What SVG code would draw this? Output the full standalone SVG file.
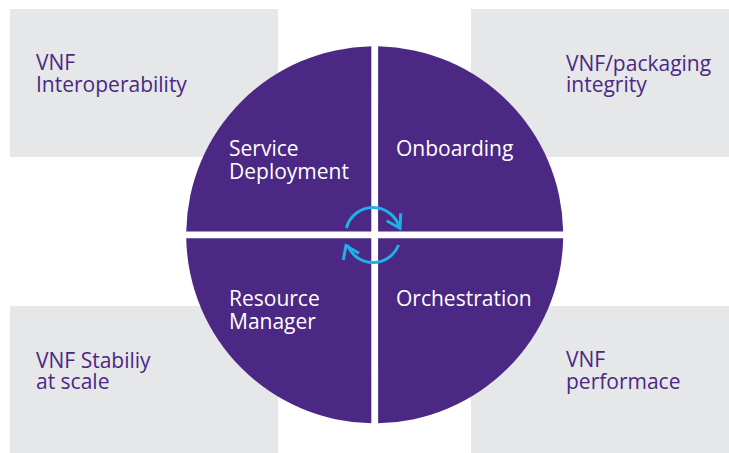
<svg xmlns="http://www.w3.org/2000/svg" width="729" height="453" viewBox="0 0 729 453">
<style>
.box{fill:#e6e7e8}
.quad{fill:#4b2884}
.bt{font-family:"Open Sans","Noto Sans",sans-serif;font-size:21px;fill:#4b2884}
.qt{font-family:"Open Sans","Noto Sans",sans-serif;font-size:21px;fill:#ffffff}
.cyc{fill:none;stroke:#1eb1e7;stroke-width:3;stroke-linecap:butt;stroke-linejoin:miter}
</style>
<rect width="729" height="453" fill="#ffffff"/>
<g id="box-interop">
<rect class="box" x="10" y="9" width="268" height="148"/>
<text class="bt"><tspan x="36" y="70">VNF</tspan><tspan x="36" y="92">Interoperability</tspan></text>
</g>
<g id="box-packaging">
<rect class="box" x="471" y="9" width="258" height="148"/>
<text class="bt"><tspan x="566" y="71">VNF/packaging</tspan><tspan x="566" y="92">integrity</tspan></text>
</g>
<g id="box-stability">
<rect class="box" x="10" y="306" width="268" height="147"/>
<text class="bt"><tspan x="36" y="368">VNF Stabiliy</tspan><tspan x="36" y="389">at scale</tspan></text>
</g>
<g id="box-performance">
<rect class="box" x="471" y="306" width="258" height="147"/>
<text class="bt"><tspan x="566" y="367">VNF</tspan><tspan x="566" y="389">performace</tspan></text>
</g>
<g id="q-service">
<path class="quad" d="M371.3,231.4 L371.3,46.33 A188.5,188.5 0 0 0 186.23,231.4 Z"/>
<text class="qt"><tspan x="229" y="156">Service</tspan><tspan x="229" y="179">Deployment</tspan></text>
</g>
<g id="q-onboarding">
<path class="quad" d="M378.1,231.4 L378.1,46.33 A188.5,188.5 0 0 1 563.17,231.4 Z"/>
<text class="qt" x="396" y="156">Onboarding</text>
</g>
<g id="q-resource">
<path class="quad" d="M371.3,238.2 L371.3,423.27 A188.5,188.5 0 0 1 186.23,238.2 Z"/>
<text class="qt"><tspan x="229" y="306">Resource</tspan><tspan x="229" y="329">Manager</tspan></text>
</g>
<g id="q-orchestration">
<path class="quad" d="M378.1,238.2 L378.1,423.27 A188.5,188.5 0 0 0 563.17,238.2 Z"/>
<text class="qt" x="396" y="306">Orchestration</text>
</g>
<g id="connectors">
<path class="cyc" d="M346.4,228 A27.5,27.5 0 0 1 399.6,228"/>
<polyline class="cyc" points="386.7,220.7 400,228.3 400.7,213.3"/>
<path class="cyc" d="M398.6,245 A27.5,27.5 0 0 1 347.4,245"/>
<polyline class="cyc" points="343.3,260 346,245.7 359,253.3"/>
</g>
</svg>
